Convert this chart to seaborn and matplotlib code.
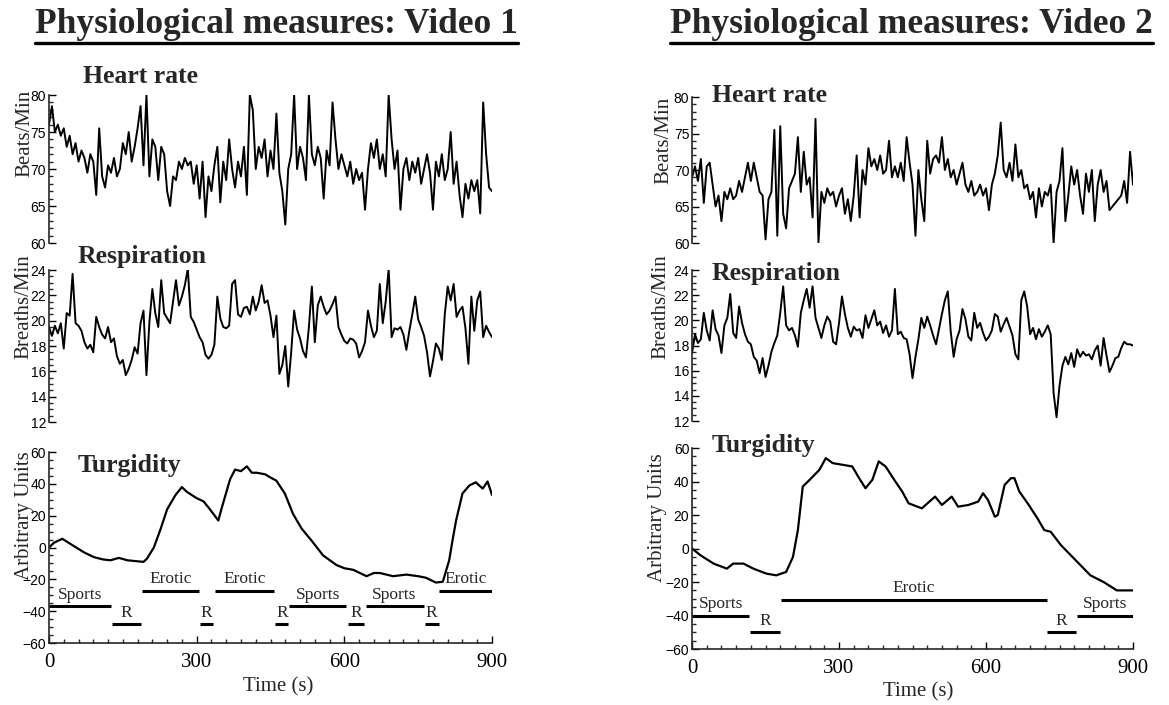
"""Physiological measures (heart rate, respiration, turgidity) for two videos."""
import numpy as np
import matplotlib
matplotlib.use("Agg")
import matplotlib.pyplot as plt
import seaborn as sns
from matplotlib.lines import Line2D
from matplotlib.ticker import MultipleLocator

# ---- data: video 1 (sampled every 6 s, 0..900 s) ----
hr_v1 = [76, 78.5, 75, 76, 74.5, 75.5, 73, 74.5, 72, 73.5, 71, 72.5, 71.5, 69.5, 72, 71,
         66.5, 75.5, 69, 67.5, 70.5, 69.5, 71.5, 69, 70, 73.5, 72, 75, 71, 73, 75.5, 78.5,
         70.5, 80, 69, 74, 73, 68.5, 73, 72, 67, 65, 69, 68.5, 71, 70, 71.5, 70.5, 71, 68,
         70.5, 66, 71, 63.5, 69, 67, 70.5, 73, 65.5, 71, 68.5, 74, 70, 67.5, 71, 69, 73,
         66.5, 80, 78, 70, 73, 71.5, 74, 69, 72.5, 70, 77.5, 69.5, 67, 62.5, 70, 72, 80, 70,
         73, 71.5, 68.5, 80, 72, 70.5, 73, 71.5, 66, 72.5, 70.5, 79, 74, 70, 72, 70.5, 69,
         71, 68, 70, 68.5, 69.5, 64.5, 70, 73.5, 71.5, 74, 70, 72, 69, 80, 74, 70, 72.5,
         64.5, 70, 71.5, 68.5, 71, 69.5, 71.5, 68, 70, 72, 69.5, 64.5, 71, 69, 72, 68.5, 70,
         75, 68, 71, 66.5, 63.5, 68, 66, 68.5, 67, 68.5, 64, 79, 72, 67.5, 67]
resp_v1 = [19.5, 18.8, 19.6, 19, 19.8, 17.8, 20.6, 20.4, 23.7, 19.8, 19.6, 19.2, 18.3, 17.8,
           18.1, 17.5, 20.3, 19.5, 18.9, 18.6, 19.5, 18.3, 18.6, 17.2, 16.6, 16.9, 15.7, 16.2,
           16.9, 17.9, 17.4, 19.8, 20.8, 15.7, 19.9, 22.5, 20.6, 19.5, 23.2, 20.6, 20.2, 19.8,
           21.5, 23.2, 21.2, 21.9, 22.8, 24.1, 20.3, 19.9, 19.3, 18.7, 18.3, 17.3, 17, 17.3,
           18.1, 21.9, 20.2, 19.5, 19.4, 19.6, 22.9, 23.2, 20.5, 20.3, 21, 21.1, 20.5, 21.9,
           20.8, 21.5, 22.8, 21.4, 21.6, 20.4, 18.7, 20.4, 15.8, 16.5, 18, 14.8, 17.5, 20.8,
           19.3, 18.6, 17.6, 17.1, 19.5, 22.7, 18.3, 21.2, 21.9, 21.1, 20.5, 20.8, 21.3, 21.9,
           19.5, 18.9, 18.4, 18.2, 18.6, 18.5, 18.2, 17.1, 17.6, 18.3, 20.8, 19.6, 18.7, 19.2,
           22.9, 19.8, 21.5, 24.1, 18.7, 19.4, 19.3, 19.5, 18.9, 17.7, 19.2, 20.5, 21.9, 20.1,
           19.5, 18.8, 17.5, 15.6, 16.8, 18.2, 17.8, 16.9, 20.5, 22.7, 21.6, 22.9, 20.3, 20.8,
           21.1, 19.4, 16.6, 21.9, 19.2, 21.6, 22.3, 18.7, 19.6, 19.1, 18.7]
turg_t_v1 = [0, 10, 27, 45, 71, 91, 110, 125, 142, 159, 175, 192, 199, 213, 226, 240, 257,
             270, 280, 300, 314, 327, 344, 351, 368, 378, 390, 402, 412, 422, 439, 450, 462,
             479, 496, 513, 533, 557, 584, 600, 618, 645, 660, 672, 699, 726, 750, 766, 786,
             800, 813, 820, 827, 840, 854, 867, 881, 891, 900]
turg_v1 = [0, 3, 5.5, 2, -3, -6, -7.5, -8, -6.5, -8, -8.5, -9, -7, 0, 11, 24, 33, 38, 35,
           31, 29, 24, 17, 25, 43, 49, 48, 51, 47, 47, 46, 44, 42, 34, 21, 12, 4.5, -5, -11,
           -13, -14, -18, -16, -16, -18, -17, -18, -19, -22, -21.5, -8, 5, 17, 34, 39, 41,
           37, 41.5, 33]
cond_names_v1 = ["Sports", "R", "Erotic", "R", "Erotic", "R", "Sports", "R", "Sports", "R", "Erotic"]
cond_start_v1 = [0, 127, 189, 307, 337, 460, 488, 607, 643, 763, 793]
cond_end_v1 = [125, 186, 305, 334, 457, 486, 604, 640, 761, 792, 900]
cond_level_v1 = [-37, -48, -27, -48, -27, -48, -37, -48, -37, -48, -27]

# ---- data: video 2 ----
hr_v2 = [69, 70.5, 68.5, 71.5, 65.5, 70.5, 71, 68, 65, 66.5, 63, 67, 66, 67.5, 66, 66.5,
         68.5, 67, 69, 71, 68.5, 71, 69, 67, 66.5, 60.5, 66, 67, 75.5, 61, 76, 64, 62, 67.5,
         68.5, 69.5, 74.5, 67, 72.5, 68, 69, 63.5, 77, 60, 67, 65.5, 67.5, 66.5, 67, 65,
         66.5, 67.5, 64, 66, 63, 66.5, 72, 63.5, 70, 68, 73, 70.5, 71.5, 70, 72, 69.5, 70,
         74, 69, 70.5, 69, 71, 68.5, 74.5, 71, 68, 61, 70, 66, 63, 74, 69.5, 71.5, 72, 71,
         74.5, 70, 71.5, 69, 70, 68, 69.5, 71, 68, 67, 68.5, 66.5, 67, 68, 66.5, 67.5, 64.5,
         68, 69.5, 72, 76.5, 70, 69, 71, 68.5, 73.5, 69, 70, 67.5, 68, 66, 67, 63.5, 67.5,
         65, 67, 66.5, 68, 60, 67, 68.5, 73, 63, 66.5, 70.5, 68, 70, 66.5, 64, 69.5, 67, 70,
         63, 68, 70, 67, 68.5, 64.5, 65, 65.5, 66, 66.5, 68.5, 65.5, 72.5, 68]
resp_v2 = [17.4, 18.9, 18.2, 18.5, 20.6, 19.2, 18.4, 20.8, 19.3, 18.8, 17.4, 19.6, 20.2,
           22.1, 19, 18.6, 21.1, 19.8, 18.9, 18.3, 18.1, 17.1, 16.8, 15.8, 17, 15.5, 16.4,
           17.5, 18.2, 18.8, 20.6, 22.7, 19.6, 19.2, 19.4, 18.8, 17.9, 20.6, 21.6, 22.5, 21,
           22.7, 20.2, 19.4, 18.6, 19.6, 20.3, 19.9, 18.3, 18.1, 19.8, 21.9, 20.5, 19.4, 18.7,
           19.5, 19.2, 19.3, 18.6, 20.4, 19.4, 20.1, 20.8, 19.6, 19.9, 19, 19.6, 18.7, 19.2,
           22.5, 18.9, 19.1, 18.6, 18.5, 17.3, 15.4, 17.1, 18.5, 20.2, 19.4, 20.3, 19.6, 18.8,
           18.1, 19.3, 20.5, 21.6, 22.3, 19.1, 17.1, 18.5, 19.2, 20.9, 20.1, 18.7, 18.4, 20.6,
           19.4, 19.8, 19, 18.4, 18.7, 19.2, 20.5, 20.3, 19.1, 19.7, 20.2, 19.5, 18.8, 17.3,
           16.9, 21.6, 22.3, 21.1, 18.9, 19.4, 18.5, 19.3, 18.7, 19.1, 19.6, 18.9, 14.2, 12.3,
           14.8, 16.4, 17.1, 16.5, 17.4, 16.3, 17.7, 17.1, 17.5, 17.2, 17.3, 16.9, 17.6, 18,
           16.4, 18.6, 17.2, 15.9, 16.4, 17, 17.1, 17.8, 18.3, 18.1, 18.1, 18]
turg_t_v2 = [0, 17, 44, 71, 84, 105, 125, 152, 172, 192, 206, 216, 226, 240, 260, 273, 287,
             307, 327, 341, 354, 368, 381, 395, 415, 429, 442, 469, 496, 510, 530, 543, 564,
             584, 594, 604, 618, 624, 638, 651, 658, 668, 685, 705, 719, 732, 753, 773, 793,
             813, 840, 867, 900]
turg_v2 = [0, -4, -9, -12, -9, -9, -12, -15, -16, -14, -5, 11, 37, 41, 47, 54, 51, 50, 49,
           42, 36, 41, 52, 49, 40, 34, 27, 24, 31, 26, 31, 25, 26, 28, 33, 29, 19, 20, 38, 42,
           42, 34, 27, 18, 11, 10, 2, -4, -10, -16, -20, -25, -25]
cond_names_v2 = ["Sports", "R", "Erotic", "R", "Sports"]
cond_start_v2 = [0, 118, 181, 724, 785]
cond_end_v2 = [117, 179, 724, 783, 900]
cond_level_v2 = [-40, -50, -30.5, -50, -40]

SERIF = ["Liberation Serif", "DejaVu Serif"]
SANS = ["Liberation Sans", "DejaVu Sans"]

sns.set_theme(style="ticks")
plt.rcParams["font.family"] = SERIF
plt.rcParams["axes.linewidth"] = 1.2

fig = plt.figure(figsize=(11.69, 7.05), dpi=100)


def style_axis(ax, ylim, major, minor, bottom=False):
    ax.set_xlim(0, 900)
    ax.set_ylim(*ylim)
    ax.yaxis.set_major_locator(MultipleLocator(major))
    ax.yaxis.set_minor_locator(MultipleLocator(minor))
    for side in ["top", "right"]:
        ax.spines[side].set_visible(False)
    ax.tick_params(axis="y", which="major", direction="in", length=5, width=1,
                   pad=2, labelsize=10, colors="black")
    ax.tick_params(axis="y", which="minor", direction="in", length=3, width=1)
    for lab in ax.get_yticklabels():
        lab.set_family(SANS)
    ax.set_xlabel("")
    ax.set_ylabel("")
    if bottom:
        ax.xaxis.set_major_locator(MultipleLocator(300))
        ax.xaxis.set_minor_locator(MultipleLocator(30))
        ax.tick_params(axis="x", which="major", direction="in", length=5, width=1,
                       pad=7, labelsize=15, colors="black")
        ax.tick_params(axis="x", which="minor", direction="in", length=3, width=1)
    else:
        ax.spines["bottom"].set_visible(False)
        ax.set_xticks([])


def draw_video(boxes, hr, resp, turg_t, turg_v, names, starts, ends, levels, labels):
    hr_ax = fig.add_axes(boxes[0])
    resp_ax = fig.add_axes(boxes[1])
    turg_ax = fig.add_axes(boxes[2])
    for ax in (hr_ax, resp_ax, turg_ax):
        ax.set_facecolor("white")

    sns.lineplot(x=np.linspace(0, 900, len(hr)), y=hr, ax=hr_ax, color="black",
                 lw=1.4, estimator=None)
    sns.lineplot(x=np.linspace(0, 900, len(resp)), y=resp, ax=resp_ax, color="black",
                 lw=1.4, estimator=None)
    sns.lineplot(x=turg_t, y=turg_v, ax=turg_ax, color="black", lw=1.6, estimator=None)

    style_axis(hr_ax, (60, 80), 5, 1)
    style_axis(resp_ax, (12, 24), 2, 0.5)
    style_axis(turg_ax, (-60, 60), 20, 5, bottom=True)

    for ax, (title, tx, ty), (ylab, lx, ly) in zip((hr_ax, resp_ax, turg_ax),
                                                    labels["titles"], labels["ylabels"]):
        ax.text(tx, ty, title, transform=ax.transAxes, fontsize=18.5, fontweight="bold",
                ha="left", va="baseline", family=SERIF)
        ax.text(lx, ly, ylab, transform=ax.transAxes, fontsize=15, rotation=90,
                ha="center", va="center", family=SERIF)

    # condition bars with their labels
    for name, s, e, lev in zip(names, starts, ends, levels):
        turg_ax.plot([s, e], [lev, lev], color="black", lw=2.2, solid_capstyle="butt")
        turg_ax.text((s + e) / 2, lev + 4.5, name, ha="center", va="baseline",
                     fontsize=12.5, family=SERIF)

    tx, ty = labels["time"]
    turg_ax.text(tx, ty, "Time (s)", transform=turg_ax.transAxes, fontsize=15,
                 ha="center", va="center", family=SERIF)


draw_video(
    [[0.0419, 0.6553, 0.379, 0.2099], [0.0419, 0.4014, 0.379, 0.2156],
     [0.0419, 0.0879, 0.379, 0.2709]],
    hr_v1, resp_v1, turg_t_v1, turg_v1,
    cond_names_v1, cond_start_v1, cond_end_v1, cond_level_v1,
    {"titles": [("Heart rate", 0.077, 1.081), ("Respiration", 0.065, 1.046),
                ("Turgidity", 0.065, 0.895)],
     "ylabels": [("Beats/Min", -0.055, 0.74), ("Breaths/Min", -0.057, 0.76),
                 ("Arbitrary Units", -0.055, 0.665)],
     "time": (0.517, -0.23)},
)
draw_video(
    [[0.592, 0.6553, 0.3772, 0.2071], [0.592, 0.4028, 0.3772, 0.2142],
     [0.592, 0.0794, 0.3772, 0.2851]],
    hr_v2, resp_v2, turg_t_v2, turg_v2,
    cond_names_v2, cond_start_v2, cond_end_v2, cond_level_v2,
    {"titles": [("Heart rate", 0.045, 0.966), ("Respiration", 0.045, 0.934),
                ("Turgidity", 0.045, 0.98)],
     "ylabels": [("Beats/Min", -0.064, 0.70), ("Breaths/Min", -0.07, 0.755),
                 ("Arbitrary Units", -0.078, 0.652)],
     "time": (0.512, -0.214)},
)

# underlined headline for each column
headers = []
for text, xc in [("Physiological measures: Video 1", 0.2365),
                 ("Physiological measures: Video 2", 0.780)]:
    headers.append(fig.text(xc, 0.953, text, ha="center", va="baseline", fontsize=25.5,
                            fontweight="bold", family=SERIF))

fig.canvas.draw()
W, H = fig.bbox.width, fig.bbox.height
for t in headers:
    bb = t.get_window_extent()
    yline = (bb.y0 - 2) / H
    fig.add_artist(Line2D([bb.x0 / W, bb.x1 / W], [yline, yline], color="black",
                          lw=2.4, transform=fig.transFigure))

fig.savefig("out.png", dpi=100, facecolor="white")
